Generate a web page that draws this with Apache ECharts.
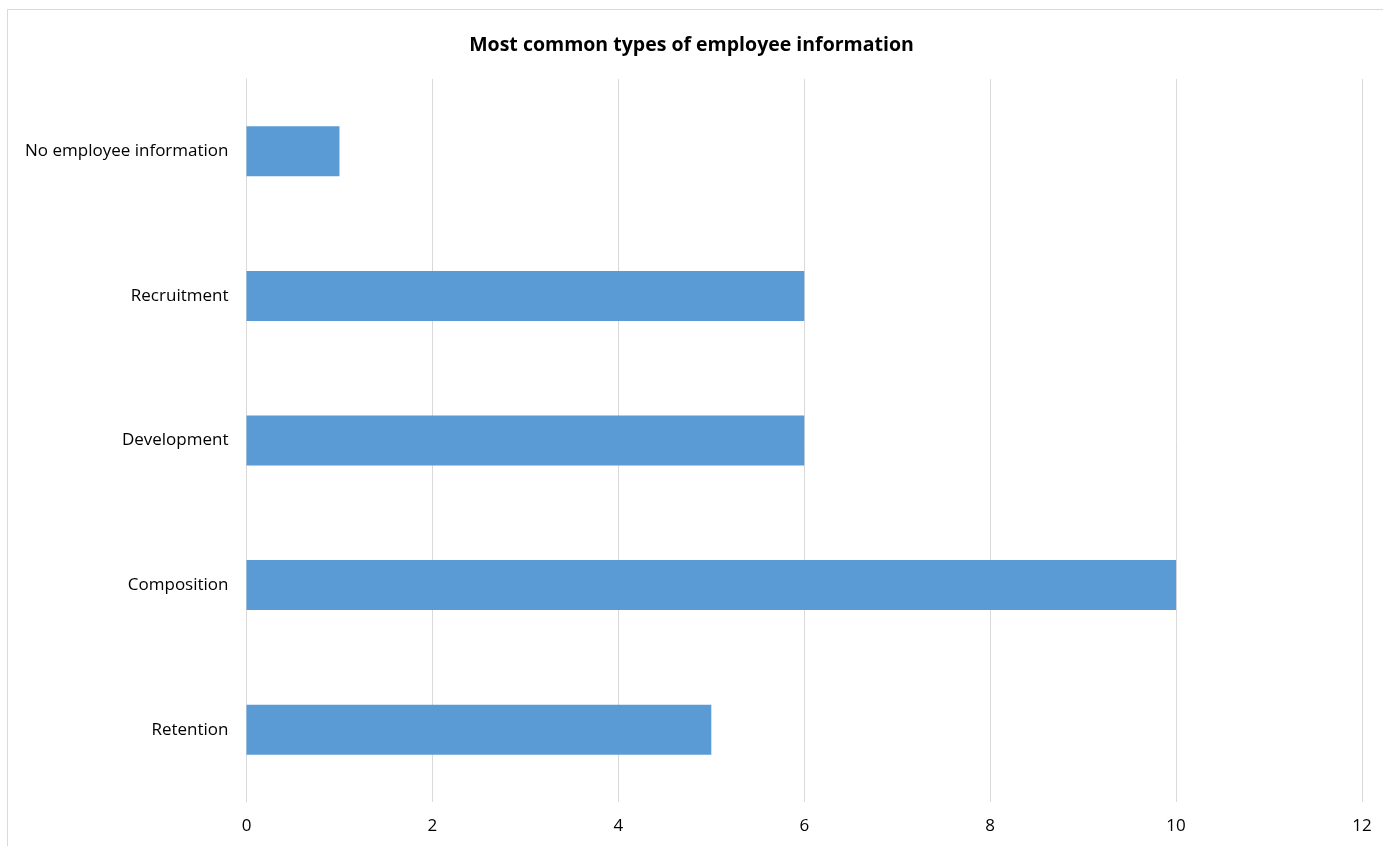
<!DOCTYPE html>
<html>
<head>
<meta charset="utf-8">
<script src="https://cdn.jsdelivr.net/npm/echarts@6/dist/echarts.min.js"></script>
<style>
  html, body { margin: 0; padding: 0; background: #fff; }
  #chart { width: 1383px; height: 846px; }
</style>
</head>
<body>
<div id="chart"></div>
<script>
// Categories listed bottom-to-top (category axis starts at the bottom)
const categories = ['Retention', 'Composition', 'Development', 'Recruitment', 'No employee information'];
const counts = [5, 10, 6, 6, 1];
const xTicks = { min: 0, max: 12, interval: 2 };

const chart = echarts.init(document.getElementById('chart'), null, { renderer: 'canvas' });
const font = '"Open Sans", "Noto Sans", sans-serif';

chart.setOption({
  animation: false,
  backgroundColor: '#ffffff',
  title: {
    text: 'Most common types of employee information',
    left: 'center',
    top: 30,
    textStyle: { fontFamily: font, fontSize: 19.5, fontWeight: 'bold', color: '#000' }
  },
  graphic: [{
    type: 'rect',
    shape: { x: 7.5, y: 9.5, width: 1400, height: 900 },
    style: { fill: 'none', stroke: '#d9d9d9', lineWidth: 1 },
    silent: true
  }],
  grid: { left: 246.5, right: 21, top: 79, bottom: 44, containLabel: false },
  xAxis: {
    type: 'value',
    min: xTicks.min, max: xTicks.max, interval: xTicks.interval,
    axisLine: { show: false },
    axisTick: { show: false },
    splitLine: { show: true, lineStyle: { color: '#d9d9d9', width: 1 } },
    axisLabel: { margin: 16, fontFamily: font, fontSize: 17, color: '#000' }
  },
  yAxis: {
    type: 'category',
    data: categories,
    axisLine: { show: true, lineStyle: { color: '#d9d9d9', width: 1 } },
    axisTick: { show: false },
    axisLabel: { margin: 18, fontFamily: font, fontSize: 17, color: '#000' }
  },
  series: [{
    type: 'bar',
    data: counts,
    barWidth: 50,
    itemStyle: { color: '#5b9bd5' }
  }]
});
</script>
</body>
</html>
